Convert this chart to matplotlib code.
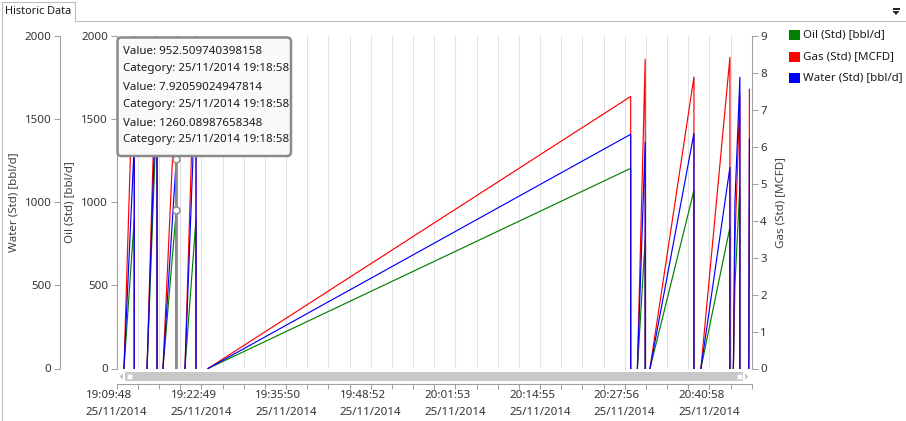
import matplotlib

matplotlib.use("Agg")
import matplotlib.dates as mdates
import matplotlib.pyplot as plt
import numpy as np
import pandas as pd
from matplotlib.patches import FancyBboxPatch, Polygon, Rectangle
from matplotlib.transforms import Affine2D

# --- data (25/11/2014); nan = no line drawn (idle at 0) ---
DAY = "2014-11-25 "
nan = np.nan
times = [
    "19:10:55", "19:12:30", "19:12:30", "19:12:30",
    "19:14:28", "19:16:00", "19:16:00", "19:16:00",
    "19:16:55", "19:18:58", "19:18:58", "19:18:58",
    "19:20:18", "19:22:00", "19:22:00", "19:22:00",
    "19:23:51", "20:28:52", "20:28:52", "20:28:52",
    "20:29:54", "20:31:06", "20:31:06", "20:31:06",
    "20:31:50", "20:38:36", "20:38:36", "20:38:36",
    "20:39:40", "20:44:08", "20:44:08", "20:44:08",
    "20:44:40", "20:44:54", "20:45:40", "20:45:40", "20:45:40",
    "20:47:02", "20:47:08",
]
oil = [
    0, 900, 0, nan,
    0, 1600, 0, nan,
    0, 952.509740398158, 0, nan,
    0, 900, 0, nan,
    0, 1205, 0, nan,
    0, 777, 0, nan,
    0, 1072, 0, nan,
    0, 850, 0, nan,
    0, 500, 1100, 0, nan,
    0, 1000,
]
gas = [
    0, 9.2, 0, nan,
    0, 9.4, 0, nan,
    0, 7.92059024947814, 0, nan,
    0, 9.8, 0, nan,
    0, 7.37, 0, nan,
    0, 8.38, 0, nan,
    0, 7.9, 0, nan,
    0, 8.43, 0, nan,
    0, 3.4, 7.4, 0, nan,
    0, 7.56,
]
water = [
    0, 1350, 0, nan,
    0, 1810, 0, nan,
    0, 1260.08987658348, 0, nan,
    0, 1750, 0, nan,
    0, 1410, 0, nan,
    0, 1361, 0, nan,
    0, 1416, 0, nan,
    0, 1211, 0, nan,
    0, 1000, 1753, 0, nan,
    0, 1380,
]

axis_start, axis_end = "19:09:48", "20:47:29"
tick_times = ["19:09:48", "19:22:49", "19:35:50", "19:48:52",
              "20:01:53", "20:14:55", "20:27:56", "20:40:58"]
tick_date = "25/11/2014"

tip_time = "19:18:58"
tip_oil = 952.509740398158
tip_gas = 7.92059024947814
tip_water = 1260.08987658348
tip_lines = [
    f"Value: {tip_oil}", f"Category: 25/11/2014 {tip_time}",
    f"Value: {tip_gas}", f"Category: 25/11/2014 {tip_time}",
    f"Value: {tip_water}", f"Category: 25/11/2014 {tip_time}",
]

series_names = ["Oil (Std) [bbl/d]", "Gas (Std) [MCFD]", "Water (Std) [bbl/d]"]
series_colors = ["#008000", "#ff0000", "#0000ff"]

# --- figure ---
W, H = 906, 421
PT = 0.72  # points per pixel at dpi 100
plt.rcParams["font.family"] = ["Noto Sans", "DejaVu Sans"]
FS = 8.3
TXT = "#333333"
AXC = "#a0a0a0"

fig = plt.figure(figsize=(W / 100, H / 100), dpi=100)
PX = Affine2D().scale(1, -1).translate(0, H)  # top-left pixel coords

L, R, T, B = 116.7, 751.7, 36.3, 368.5
ax = fig.add_axes([L / W, 1 - B / H, (R - L) / W, (B - T) / H])
ax_g = ax.twinx()
ax_w = ax.twinx()

x = mdates.date2num(pd.to_datetime([DAY + s for s in times]))
x0, x1 = mdates.date2num(pd.to_datetime([DAY + axis_start, DAY + axis_end]))
tip_x = mdates.date2num(pd.to_datetime(DAY + tip_time))

ax.plot(x, oil, color=series_colors[0], lw=0.85)
ax_g.plot(x, gas, color=series_colors[1], lw=0.85)
ax_w.plot(x, water, color=series_colors[2], lw=0.85)

ax.set_xlim(x0, x1)
ax.set_ylim(0, 2000)
ax_w.set_ylim(0, 2000)
ax_g.set_ylim(0, 9)

# tracker
ax_w.axvline(tip_x, color="#8c8c8c", lw=2.0, zorder=5)
ax_w.plot([tip_x, tip_x], [tip_water, tip_oil], "o", ms=5, mfc="white",
          mec="#8c8c8c", mew=1.1, zorder=6)
ax_g.plot([tip_x], [tip_gas], "o", ms=5, mfc="white", mec="#8c8c8c", mew=1.1, zorder=6)

# x axis: 30 minor intervals, label every 4th
step = (x1 - x0) / 30
minor = [x0 + k * step for k in range(31)]
major = mdates.date2num(pd.to_datetime([DAY + s for s in tick_times]))
ax.set_xticks(minor, minor=True)
ax.set_xticks(major)
ax.set_xticklabels([f"{s}\n{tick_date}" for s in tick_times])
ax.grid(which="both", axis="x", color="#e2e2e2", lw=0.75)
ax.set_axisbelow(True)
ax.tick_params(axis="x", which="both", direction="out", length=5 * PT, width=0.75,
               color=AXC, labelsize=FS, labelcolor=TXT, pad=1.0)

for a in (ax, ax_g, ax_w):
    a.spines["top"].set_visible(False)
    for s in a.spines.values():
        s.set_color(AXC)
        s.set_linewidth(0.75)
ax.spines["right"].set_visible(False)
ax.spines["bottom"].set_position(("outward", 15.5 * PT))
ax_g.spines["bottom"].set_visible(False)
ax_g.spines["left"].set_visible(False)
ax_w.spines["bottom"].set_visible(False)
ax_w.spines["right"].set_visible(False)
ax_w.spines["left"].set_visible(True)
ax_w.spines["left"].set_position(("outward", (L - 60) * PT))
ax_w.yaxis.tick_left()

ax.set_yticks(range(0, 2001, 500))
ax_w.set_yticks(range(0, 2001, 500))
ax_g.set_yticks(range(0, 10))
for a in (ax, ax_g, ax_w):
    a.tick_params(axis="y", direction="out", length=6 * PT, width=0.75, color=AXC,
                  labelsize=FS, labelcolor=TXT, pad=2.5 * PT)

# axis titles
fig.text(14 / W, 1 - 202 / H, "Water (Std) [bbl/d]", rotation=90, ha="center",
         va="center", fontsize=FS, color="#404040")
fig.text(70 / W, 1 - 202 / H, "Oil (Std) [bbl/d]", rotation=90, ha="center",
         va="center", fontsize=FS, color="#404040")
fig.text(781 / W, 1 - 202 / H, "Gas (Std) [MCFD]", rotation=90, ha="center",
         va="center", fontsize=FS, color="#404040")

# legend
for i, (name, col) in enumerate(zip(series_names, series_colors)):
    yc = 35 + i * 21.5
    fig.add_artist(Rectangle((789, yc - 5), 10.5, 10, transform=PX, color=col, lw=0))
    fig.text(803, yc, name, transform=PX, ha="left", va="center", fontsize=FS,
             color="#1a1a1a")

# scrollbar under the plot
fig.add_artist(Rectangle((125, 372), 618, 9, transform=PX, color="#c8c8c8", lw=0))
for xs in (127, 737):
    fig.add_artist(Rectangle((xs, 374), 5, 5, transform=PX, facecolor="white",
                             edgecolor="#d8d8d8", lw=0.5))
fig.add_artist(Polygon([(123, 373.5), (123, 379.5), (119.5, 376.5)], transform=PX,
                       color="#c0c0c0", lw=0))
fig.add_artist(Polygon([(745, 373.5), (745, 379.5), (748.5, 376.5)], transform=PX,
                       color="#c0c0c0", lw=0))

# tooltip
fig.add_artist(FancyBboxPatch((117.5, 37.5), 173.5, 118.5, transform=PX,
                              boxstyle="round,pad=0,rounding_size=4",
                              facecolor="#fafafa", edgecolor="#8a8a8a", lw=1.8))
for y, line in zip([51.5, 68, 88, 104, 123.5, 139.5], tip_lines):
    fig.text(123, y, line, transform=PX, ha="left", va="center", fontsize=FS,
             color="#1a1a1a")

# tab header and frame
frame = "#bcbcbc"
fig.add_artist(plt.Line2D([2, 2, 75, 75, W], [H, 2, 2, 21, 21], transform=PX,
                          color=frame, lw=0.8))
fig.text(5, 12, "Historic Data", transform=PX, ha="left", va="center", fontsize=7.9,
         color="#1a1a1a")
fig.add_artist(Rectangle((892.5, 8), 7, 1.6, transform=PX, color="#222222", lw=0))
fig.add_artist(Polygon([(892.5, 11), (899.5, 11), (896, 15)], transform=PX,
                       color="#222222", lw=0))

# two-line tick labels: left-aligned lines, block centred on the tick
fig.canvas.draw()
for lbl in ax.get_xticklabels():
    lbl.set_multialignment("left")
    lbl.set_linespacing(1.75)

fig.savefig("out.png", dpi=100)
